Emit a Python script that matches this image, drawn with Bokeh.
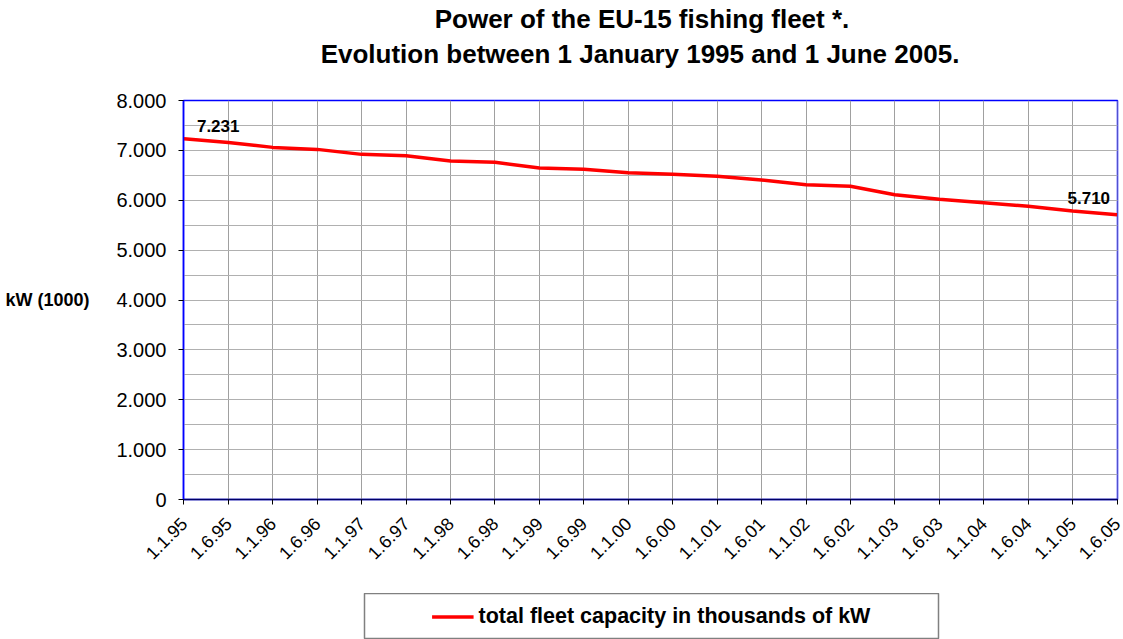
from bokeh.plotting import figure
from bokeh.layouts import column
from bokeh.models import (FactorRange, Range1d, SingleIntervalTicker, CustomJSTickFormatter,
                          Legend, LegendItem, Label, LabelSet, ColumnDataSource)
from bokeh.core.properties import value
from bokeh.embed import file_html
from bokeh.resources import INLINE
import math

dates = ["1.1.95", "1.6.95", "1.1.96", "1.6.96", "1.1.97", "1.6.97", "1.1.98", "1.6.98",
         "1.1.99", "1.6.99", "1.1.00", "1.6.00", "1.1.01", "1.6.01", "1.1.02", "1.6.02",
         "1.1.03", "1.6.03", "1.1.04", "1.6.04", "1.1.05", "1.6.05"]
capacity = [7231, 7160, 7060, 7020, 6920, 6894, 6787, 6760, 6647, 6620, 6553, 6520,
            6480, 6407, 6313, 6279, 6112, 6018, 5952, 5878, 5786, 5710]
series_name = "total fleet capacity in thousands of kW"
title_line1 = "Power of the EU-15 fishing fleet *."
title_line2 = "Evolution between 1 January 1995 and 1 June 2005."
y_label = "kW (1000)"

FONT = "Liberation Sans"
W = 1123
LEFT = 183          # left border of the plot frames (column aligns them)
RIGHT = 6           # right border, leaves room for the last tick label
PAD = 0.49          # x range ends just outside first/last category

# ---------------- title strip ----------------
TH = 80
tf = figure(width=W, height=TH, output_backend="svg", toolbar_location=None,
            x_range=Range1d(0, 1), y_range=Range1d(0, 1),
            x_axis_location=None, y_axis_location=None,
            min_border_left=LEFT, min_border_right=RIGHT, min_border_top=0, min_border_bottom=0)
tf.grid.visible = False
tf.outline_line_color = None
tf.border_fill_color = "white"
tf.background_fill_color = "white"
tf.add_layout(Label(x=641.5 - LEFT, y=TH - 18, x_units="screen", y_units="screen", text=title_line1,
                    text_align="center", text_baseline="middle", text_font=FONT,
                    text_font_size="26px", text_font_style="bold", text_color="black"))
tf.add_layout(Label(x=639.5 - LEFT, y=TH - 53, x_units="screen", y_units="screen", text=title_line2,
                    text_align="center", text_baseline="middle", text_font=FONT,
                    text_font_size="26px", text_font_style="bold", text_color="black"))

# ---------------- main chart ----------------
p = figure(width=W, height=513, output_backend="svg", toolbar_location=None,
           x_range=FactorRange(factors=dates, range_padding=-PAD, range_padding_units="absolute"),
           y_range=Range1d(0, 8000),
           min_border_left=LEFT, min_border_right=RIGHT, min_border_top=20, min_border_bottom=94)
p.background_fill_color = "white"
p.border_fill_color = "white"
p.outline_line_color = "#0000ff"
p.outline_line_width = 1.5

yax = p.yaxis[0]
yax.ticker = SingleIntervalTicker(interval=1000, num_minor_ticks=2)
yax.formatter = CustomJSTickFormatter(code="return tick == 0 ? '0' : (tick/1000).toFixed(3);")
yax.major_label_text_font = FONT
yax.major_label_text_font_size = "20px"
yax.major_label_text_color = "black"
yax.major_label_standoff = 12
yax.major_tick_out = 5
yax.major_tick_in = 0
yax.major_tick_line_color = "black"
yax.minor_tick_line_color = None
yax.axis_line_color = "#0000ff"
yax.axis_line_width = 1.5
yax.axis_label = y_label
yax.axis_label_orientation = "horizontal"
yax.axis_label_text_font = FONT
yax.axis_label_text_font_size = "18px"
yax.axis_label_text_font_style = "bold"
yax.axis_label_text_color = "black"
yax.axis_label_standoff = 24

xax = p.xaxis[0]
xax.major_label_orientation = math.pi / 4
xax.major_label_text_font = FONT
xax.major_label_text_font_size = "18px"
xax.major_label_text_color = "black"
xax.major_label_standoff = 16
xax.major_tick_out = 5
xax.major_tick_in = 0
xax.major_tick_line_color = "black"
xax.axis_line_color = "#000066"
xax.axis_line_width = 1.5

p.xgrid.grid_line_color = "#a0a0a0"
p.xgrid.grid_line_width = 1
p.ygrid.grid_line_color = "#b0b0b0"
p.ygrid.minor_grid_line_color = "#b0b0b0"
p.ygrid.grid_line_width = 1

src = ColumnDataSource(data=dict(x=dates, y=capacity))
p.line(x="x", y="y", source=src, line_color="#ff0000", line_width=3.5)

def fmt(v):
    return f"{v:,}".replace(",", ".")

first = ColumnDataSource(data=dict(x=[dates[0]], y=[capacity[0]], t=[fmt(capacity[0])]))
last = ColumnDataSource(data=dict(x=[dates[-1]], y=[capacity[-1]], t=[fmt(capacity[-1])]))
p.add_layout(LabelSet(x="x", y="y", text="t", source=first, x_offset=13, y_offset=13,
                      text_font=value(FONT), text_font_size="17px", text_font_style="bold",
                      text_color="black", text_baseline="middle", text_align="left"))
p.add_layout(LabelSet(x="x", y="y", text="t", source=last, x_offset=-7, y_offset=17,
                      text_font=value(FONT), text_font_size="17px", text_font_style="bold",
                      text_color="black", text_baseline="middle", text_align="right"))

# ---------------- legend box ----------------
BOX_L, BOX_W = 364, 574
lf = figure(width=BOX_W + LEFT + RIGHT, height=46, output_backend="svg", toolbar_location=None,
            x_range=FactorRange(factors=dates), y_range=Range1d(0, 8000),
            x_axis_location=None, y_axis_location=None,
            min_border_left=LEFT, min_border_right=RIGHT, min_border_top=0, min_border_bottom=0)
lf.margin = (0, 0, 0, BOX_L - LEFT)
lf.grid.visible = False
lf.outline_line_color = "#808080"
lf.outline_line_width = 1.5
lf.border_fill_color = None
lf.background_fill_color = "white"
# style proxy for the legend swatch: a single point of the series (draws no segment)
proxy = lf.line(x=dates[:1], y=capacity[:1], line_color="#ff0000", line_width=3.5)
legend = Legend(items=[LegendItem(label=series_name, renderers=[proxy])],
                orientation="horizontal", location="center",
                glyph_width=42, label_standoff=5, padding=0, margin=0,
                label_text_font=FONT, label_text_font_size="21.5px", label_text_font_style="bold",
                label_text_color="black", border_line_color=None, background_fill_alpha=0)
lf.add_layout(legend, "center")

layout = column(tf, p, lf, spacing=0)
open("out.html", "w").write(file_html(layout, INLINE))
